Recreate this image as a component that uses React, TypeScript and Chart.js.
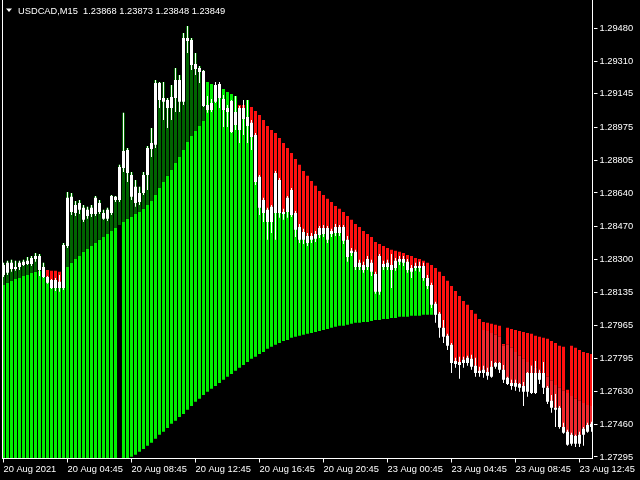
import React, { useEffect, useRef } from 'react';
import { Chart, registerables } from 'chart.js';

Chart.register(...registerables);

const chartTitle = 'USDCAD,M15  1.23868 1.23873 1.23848 1.23849';
const xTickLabels = ['20 Aug 2021', '20 Aug 04:45', '20 Aug 08:45', '20 Aug 12:45', '20 Aug 16:45', '20 Aug 20:45', '23 Aug 00:45', '23 Aug 04:45', '23 Aug 08:45', '23 Aug 12:45'];
const xTickEvery = 16;
const yTickValues = [1.27295, 1.2746, 1.2763, 1.27795, 1.27965, 1.28135, 1.283, 1.2847, 1.2864, 1.28805, 1.28975, 1.29145, 1.2931, 1.2948];
const yMin = 1.27287;
const yMax = 1.29623;

const openPrices = [
  1.28222, 1.28284, 1.28253, 1.28263, 1.28263, 1.28273, 1.28278, 1.28278, 1.28304, 1.28319,
  1.28263, 1.28212, 1.28197, 1.28156, 1.28187, 1.28156, 1.2837, 1.2862, 1.28538, 1.28589,
  1.28564, 1.28523, 1.28533, 1.28533, 1.28589, 1.28538, 1.28508, 1.28538, 1.2862, 1.28604,
  1.28767, 1.28859, 1.28732, 1.28671, 1.28594, 1.2864, 1.28732, 1.28864, 1.28885, 1.292,
  1.29124, 1.29114, 1.29073, 1.29124, 1.29216, 1.29104, 1.2943, 1.29419, 1.29297, 1.29256,
  1.29261, 1.29088, 1.29063, 1.29104, 1.29195, 1.29119, 1.29073, 1.28951, 1.29053, 1.28961,
  1.29073, 1.28981, 1.28997, 1.28935, 1.28722, 1.28604, 1.28554, 1.28492, 1.28538, 1.28706,
  1.28543, 1.28543, 1.28655, 1.28538, 1.28467, 1.28401, 1.28421, 1.28401, 1.28406, 1.28426,
  1.28462, 1.28401, 1.28446, 1.28436, 1.28467, 1.28467, 1.28401, 1.28334, 1.2834, 1.28284,
  1.28273, 1.28263, 1.28284, 1.28227, 1.28136, 1.28278, 1.28263, 1.28273, 1.28258, 1.28289,
  1.28304, 1.28289, 1.28258, 1.28258, 1.28268, 1.28268, 1.28207, 1.28171, 1.28075, 1.28024,
  1.27953, 1.27912, 1.27866, 1.27769, 1.27779, 1.27774, 1.27774, 1.27795, 1.27759, 1.27734,
  1.27723, 1.27728, 1.27703, 1.27754, 1.27774, 1.27739, 1.27698, 1.27672, 1.27652, 1.27667,
  1.27657, 1.27627, 1.27723, 1.27621, 1.27723, 1.27723, 1.27647, 1.27581, 1.27545, 1.27545,
  1.27448, 1.27423, 1.27362, 1.27402, 1.27362, 1.27408, 1.27423, 1.27464,
];
const highPrices = [
  1.28284, 1.28294, 1.28299, 1.28294, 1.28294, 1.28299, 1.28314, 1.28319, 1.28334, 1.28329,
  1.28284, 1.28217, 1.28202, 1.28207, 1.28222, 1.28385, 1.28645, 1.2864, 1.28599, 1.28604,
  1.28579, 1.28569, 1.28579, 1.28625, 1.28604, 1.28554, 1.28564, 1.2863, 1.28625, 1.28783,
  1.29048, 1.28869, 1.28747, 1.28706, 1.28671, 1.28747, 1.28879, 1.28971, 1.29216, 1.29205,
  1.29205, 1.29124, 1.2919, 1.29277, 1.29241, 1.29455, 1.29491, 1.2943, 1.29353, 1.29287,
  1.29266, 1.29134, 1.29119, 1.29205, 1.29205, 1.29139, 1.29088, 1.29114, 1.29134, 1.29083,
  1.29114, 1.29114, 1.29012, 1.28946, 1.28732, 1.28615, 1.28564, 1.28579, 1.28752, 1.28716,
  1.28559, 1.28625, 1.28665, 1.28548, 1.28482, 1.28457, 1.28436, 1.28436, 1.28446, 1.28472,
  1.28477, 1.28472, 1.28457, 1.28482, 1.28477, 1.28477, 1.28421, 1.2836, 1.2835, 1.28299,
  1.28289, 1.28319, 1.28299, 1.28238, 1.28329, 1.28294, 1.28299, 1.28329, 1.28309, 1.28319,
  1.28319, 1.28304, 1.28273, 1.28284, 1.28289, 1.28284, 1.28222, 1.28182, 1.28085, 1.28034,
  1.27993, 1.27922, 1.27876, 1.278, 1.27805, 1.27805, 1.2781, 1.27815, 1.278, 1.27754,
  1.27759, 1.27749, 1.27784, 1.27779, 1.27779, 1.27764, 1.27703, 1.27688, 1.27688, 1.27672,
  1.27677, 1.27728, 1.27759, 1.27784, 1.27739, 1.27779, 1.27657, 1.27611, 1.27616, 1.27555,
  1.27469, 1.27433, 1.27418, 1.27408, 1.27423, 1.27448, 1.27469, 1.27474,
];
const lowPrices = [
  1.28212, 1.28222, 1.28238, 1.28243, 1.28248, 1.28268, 1.28273, 1.28268, 1.28289, 1.28217,
  1.28207, 1.28177, 1.28151, 1.28141, 1.28136, 1.28146, 1.2836, 1.28528, 1.28523, 1.28533,
  1.28492, 1.28508, 1.28518, 1.28523, 1.28533, 1.28503, 1.28497, 1.28528, 1.28594, 1.28594,
  1.28747, 1.28696, 1.28604, 1.28569, 1.28579, 1.2863, 1.28655, 1.28823, 1.28869, 1.29073,
  1.29012, 1.28971, 1.29012, 1.29053, 1.29053, 1.29088, 1.29353, 1.29266, 1.29241, 1.292,
  1.29078, 1.29048, 1.29053, 1.29098, 1.29073, 1.28976, 1.28976, 1.28946, 1.28961, 1.28895,
  1.28935, 1.28895, 1.28859, 1.28681, 1.28528, 1.28492, 1.28401, 1.28436, 1.28401, 1.28513,
  1.28503, 1.28513, 1.28518, 1.28416, 1.28385, 1.2838, 1.2837, 1.28385, 1.2839, 1.28411,
  1.28416, 1.28385, 1.28416, 1.28421, 1.28421, 1.2838, 1.28289, 1.28319, 1.28248, 1.28248,
  1.28233, 1.28248, 1.28217, 1.28126, 1.28121, 1.28248, 1.28248, 1.28156, 1.28243, 1.28273,
  1.28268, 1.28233, 1.28207, 1.28243, 1.28238, 1.28192, 1.28151, 1.28054, 1.27978, 1.27902,
  1.27876, 1.2784, 1.27723, 1.27749, 1.27693, 1.27749, 1.27759, 1.27739, 1.27703, 1.27703,
  1.27698, 1.27688, 1.27698, 1.27744, 1.27723, 1.27672, 1.27662, 1.27637, 1.27632, 1.27627,
  1.27555, 1.27601, 1.27616, 1.27616, 1.27667, 1.27616, 1.27565, 1.2752, 1.27448, 1.27438,
  1.27413, 1.27352, 1.27352, 1.27346, 1.27346, 1.27352, 1.27418, 1.27423,
];
const closePrices = [
  1.28273, 1.28233, 1.28284, 1.28253, 1.28284, 1.28289, 1.28294, 1.28309, 1.28319, 1.28248,
  1.28212, 1.28182, 1.28156, 1.28197, 1.28156, 1.28375, 1.28615, 1.28543, 1.28579, 1.28554,
  1.28503, 1.28554, 1.28564, 1.28615, 1.28543, 1.28508, 1.28554, 1.28625, 1.28604, 1.28772,
  1.28854, 1.28742, 1.2862, 1.28589, 1.2864, 1.28732, 1.28869, 1.28895, 1.292, 1.29114,
  1.29104, 1.29073, 1.29129, 1.29216, 1.29104, 1.2943, 1.29414, 1.29292, 1.29272, 1.29277,
  1.29083, 1.29063, 1.29098, 1.2919, 1.29124, 1.29063, 1.29053, 1.29109, 1.28986, 1.29073,
  1.29017, 1.29027, 1.28925, 1.28696, 1.28564, 1.28538, 1.28492, 1.28569, 1.28742, 1.28538,
  1.28533, 1.28615, 1.28528, 1.28452, 1.28401, 1.28441, 1.28385, 1.28421, 1.28431, 1.28462,
  1.28431, 1.28462, 1.28431, 1.28467, 1.28436, 1.28396, 1.28314, 1.28345, 1.28263, 1.28263,
  1.28248, 1.28304, 1.28238, 1.28136, 1.28319, 1.28263, 1.28284, 1.28248, 1.28294, 1.28304,
  1.28284, 1.28248, 1.28238, 1.28268, 1.28258, 1.28207, 1.28166, 1.2807, 1.28019, 1.27953,
  1.27907, 1.27861, 1.27774, 1.27784, 1.27764, 1.2779, 1.278, 1.27754, 1.27723, 1.27723,
  1.27739, 1.27708, 1.27754, 1.27774, 1.27739, 1.27688, 1.27667, 1.27657, 1.27672, 1.27647,
  1.27627, 1.27723, 1.27621, 1.27723, 1.27688, 1.27647, 1.27576, 1.27545, 1.27535, 1.27448,
  1.27418, 1.27357, 1.27408, 1.27362, 1.27408, 1.27438, 1.27458, 1.27448,
];

// smooth trend line (top of the lime histogram when rising, top of the red one when falling)
const maLine = [
  1.28171, 1.28182, 1.28192, 1.28202, 1.28207, 1.28217, 1.28222, 1.28233, 1.28238, 1.28243,
  1.28248, 1.28248, 1.28243, 1.28243, 1.28238, 1.28243, 1.28263, 1.28284, 1.28304, 1.28319,
  1.2834, 1.28355, 1.2837, 1.28385, 1.28401, 1.28416, 1.28431, 1.28446, 1.28462, 1.28477,
  1.28492, 1.28508, 1.28518, 1.28533, 1.28543, 1.28559, 1.28579, 1.28599, 1.2863, 1.28665,
  1.28696, 1.28727, 1.28757, 1.28793, 1.28823, 1.28859, 1.289, 1.2893, 1.28956, 1.28981,
  1.29007, 1.29027, 1.29042, 1.29053, 1.29063, 1.29073, 1.29078, 1.29083, 1.29088, 1.29088,
  1.29088, 1.29083, 1.29078, 1.29058, 1.29037, 1.29012, 1.28981, 1.28961, 1.28946, 1.2892,
  1.28895, 1.28869, 1.28844, 1.28813, 1.28783, 1.28752, 1.28727, 1.28701, 1.28676, 1.2865,
  1.2863, 1.2861, 1.28594, 1.28574, 1.28559, 1.28543, 1.28523, 1.28503, 1.28482, 1.28467,
  1.28446, 1.28431, 1.28416, 1.2839, 1.2838, 1.2837, 1.2836, 1.2835, 1.28345, 1.2834,
  1.28334, 1.28324, 1.28319, 1.28309, 1.28304, 1.28294, 1.28284, 1.28273, 1.28258, 1.28238,
  1.28217, 1.28192, 1.28166, 1.28141, 1.28115, 1.2809, 1.2807, 1.28044, 1.28024, 1.27998,
  1.27983, 1.27978, 1.27973, 1.27968, 1.27963, 1.27871, 1.27953, 1.27947, 1.27942, 1.27937,
  1.27932, 1.27927, 1.27922, 1.27912, 1.27907, 1.27902, 1.27897, 1.27886, 1.27876, 1.27861,
  1.27856, 1.27637, 1.27861, 1.27851, 1.2784, 1.2783, 1.27825, 1.2782,
];

// slow base line (bottom of the lime histogram), known from bar 32 to bar 109
const slowLineStart = 32;
const slowLine = [
  1.27296, 1.27306, 1.27321, 1.27336, 1.27352, 1.27367, 1.27387, 1.27408, 1.27423, 1.27443,
  1.27464, 1.27479, 1.27499, 1.27514, 1.27535, 1.27555, 1.27576, 1.27591, 1.27611, 1.27627,
  1.27642, 1.27657, 1.27672, 1.27688, 1.27703, 1.27718, 1.27734, 1.27749, 1.27764, 1.27779,
  1.27795, 1.27805, 1.2782, 1.2783, 1.27846, 1.27856, 1.27866, 1.27876, 1.27886, 1.27891,
  1.27902, 1.27907, 1.27912, 1.27917, 1.27922, 1.27927, 1.27932, 1.27937, 1.27942, 1.27947,
  1.27953, 1.27958, 1.27963, 1.27963, 1.27968, 1.27973, 1.27978, 1.27978, 1.27983, 1.27983,
  1.27988, 1.27993, 1.27993, 1.27998, 1.27998, 1.28003, 1.28003, 1.28009, 1.28009, 1.28009,
  1.28014, 1.28014, 1.28014, 1.28019, 1.28019, 1.28019, 1.28019, 1.28019,
];

// split between the bright and the deep red parts, bars 120 to 147
const splitLineStart = 120;
const splitLine = [
  1.27942, 1.27937, 1.27927, 1.27917, 1.27907, 1.27861, 1.27866, 1.27851, 1.2783, 1.2781,
  1.27795, 1.27779, 1.27764, 1.27749, 1.27734, 1.27718, 1.27703, 1.27683, 1.27662, 1.27647,
  1.27632, 1.27621, 1.27606, 1.27591, 1.27581, 1.2757, 1.2756, 1.27555,
];

// top of the lime histogram on the weakening bars
const weakTop: Record<number, number> = {
  51: 1.29205, 52: 1.29195, 53: 1.29185, 54: 1.2918, 55: 1.2917, 56: 1.29154, 57: 1.29144, 58: 1.29134, 61: 1.29114,
};

// U = rising, G = rising without base, W = weakening, D = falling above base, R = falling below base
const stateRuns: [string, number][] = [
  ['U', 11], ['D', 4], ['U', 14], ['G', 1], ['U', 21], ['W', 8], ['D', 2], ['W', 1], ['D', 48], ['R', 38],
];

const COLORS = {
  lime: '#00f000',
  darkGreen: '#006400',
  red: '#ff1010',
  deepRed: '#f2282e',
  candle: '#ffffff',
  text: '#ffffff',
  bg: '#000000',
};
const FONT_FAMILY = '"Liberation Sans", Arial, sans-serif';
const FONT_SIZE = 9.3;

function buildTable() {
  const states: string[] = [];
  stateRuns.forEach(([s, n]) => { for (let i = 0; i < n; i++) states.push(s); });
  const n = closePrices.length;
  const lime: any[] = [], darkGreen: any[] = [], red: any[] = [], deepRed: any[] = [], wicks: any[] = [], bodies: any[] = [];
  for (let k = 0; k < n; k++) {
    const s = states[k] || 'R';
    const top = Math.max(openPrices[k], closePrices[k]);
    const m = maLine[k];
    const si = k - slowLineStart;
    const slow = k < slowLineStart ? yMin : (si < slowLine.length ? slowLine[si] : null);
    const pi = k - splitLineStart;
    const split = pi >= 0 && pi < splitLine.length ? splitLine[pi] : null;
    let l: any = null, dg: any = null, r: any = null, dr: any = null;
    if (s === 'U') {
      if (slow !== null) l = [slow, m];
      dg = [m, highPrices[k]];
    } else if (s === 'G') {
      dg = [m, highPrices[k]];
    } else if (s === 'W') {
      if (slow !== null) l = [slow, weakTop[k]];
    } else {
      if (s === 'D' && slow !== null && top > slow) l = [slow, top];
      if (m > top) {
        if (split !== null && split > top && split < m) {
          r = [split, m];
          dr = [top, split];
        } else {
          r = [top, m];
        }
      }
    }
    lime.push(l); darkGreen.push(dg); red.push(r); deepRed.push(dr);
    wicks.push([lowPrices[k], highPrices[k]]);
    bodies.push([openPrices[k], closePrices[k]]);
  }
  return { lime, darkGreen, red, deepRed, wicks, bodies };
}

const framePlugin = {
  id: 'frame',
  beforeDraw(chart: any) {
    const ctx = chart.ctx;
    ctx.save();
    ctx.fillStyle = COLORS.bg;
    ctx.fillRect(0, 0, chart.width, chart.height);
    ctx.restore();
  },
  afterDraw(chart: any) {
    const ctx = chart.ctx;
    const a = chart.chartArea;
    ctx.save();
    ctx.fillStyle = '#ffffff';
    const bottom = Math.floor(a.bottom);
    ctx.fillRect(2, 0, 1, bottom + 1);
    ctx.fillRect(Math.floor(a.right) - 1, 0, 1, bottom + 1);
    ctx.fillRect(2, bottom, Math.floor(a.right) - 2, 1);
    // title
    ctx.beginPath();
    ctx.moveTo(6, 8.5);
    ctx.lineTo(12, 8.5);
    ctx.lineTo(9, 12);
    ctx.closePath();
    ctx.fill();
    ctx.fillStyle = COLORS.text;
    ctx.font = `${FONT_SIZE}px ${FONT_FAMILY}`;
    ctx.textBaseline = 'middle';
    ctx.textAlign = 'left';
    ctx.fillText(chartTitle, 18, 11);
    ctx.restore();
  },
};

export default function App() {
  const ref = useRef<HTMLCanvasElement | null>(null);
  useEffect(() => {
    document.body.style.margin = '0';
    document.body.style.background = '#000';
    const t = buildTable();
    const common = { grouped: false, borderWidth: 0, inflateAmount: 0 };
    const chart = new Chart(ref.current as HTMLCanvasElement, {
      type: 'bar',
      data: {
        labels: closePrices.map((_, i) => String(i)),
        datasets: [
          { label: 'body', data: t.bodies, backgroundColor: COLORS.candle, barThickness: 3, order: 0, ...common },
          { label: 'wick', data: t.wicks, backgroundColor: COLORS.candle, barThickness: 1, order: 1, ...common },
          { label: 'deepRed', data: t.deepRed, backgroundColor: COLORS.deepRed, barThickness: 3, order: 2, ...common },
          { label: 'red', data: t.red, backgroundColor: COLORS.red, barThickness: 3, order: 3, ...common },
          { label: 'darkGreen', data: t.darkGreen, backgroundColor: COLORS.darkGreen, barThickness: 3, order: 4, ...common },
          { label: 'lime', data: t.lime, backgroundColor: COLORS.lime, barThickness: 3, order: 5, ...common },
        ] as any,
      },
      options: {
        responsive: false,
        animation: false,
        devicePixelRatio: 1,
        events: [],
        layout: { padding: { left: 1.5, right: 0, top: 0, bottom: 0 } },
        plugins: { legend: { display: false }, tooltip: { enabled: false }, title: { display: false } },
        scales: {
          x: {
            type: 'category',
            offset: true,
            border: { display: false },
            grid: {
              display: true,
              drawOnChartArea: false,
              drawTicks: true,
              tickLength: 4,
              offset: false,
              color: (c: any) => (c.index % xTickEvery === 0 ? '#ffffff' : 'rgba(0,0,0,0)'),
              tickColor: (c: any) => (c.index % xTickEvery === 0 ? '#ffffff' : 'rgba(0,0,0,0)'),
            },
            ticks: {
              autoSkip: false,
              maxRotation: 0,
              minRotation: 0,
              align: 'start',
              padding: 1,
              color: COLORS.text,
              font: { family: FONT_FAMILY, size: FONT_SIZE },
              callback: (_v: any, i: number) => (i % xTickEvery === 0 ? (xTickLabels[i / xTickEvery] ?? '') : ''),
            },
            afterFit: (s: any) => {
              s.height = 21.5;
              s.paddingLeft = 0; s.paddingRight = 0; s.paddingTop = 0; s.paddingBottom = 0;
            },
          },
          y: {
            type: 'linear',
            position: 'right',
            min: yMin,
            max: yMax,
            beginAtZero: false,
            border: { display: false },
            grid: { display: true, drawOnChartArea: false, drawTicks: true, tickLength: 4, color: '#ffffff', tickColor: '#ffffff' },
            ticks: {
              padding: 2,
              color: COLORS.text,
              font: { family: FONT_FAMILY, size: FONT_SIZE },
              callback: (v: any) => Number(v).toFixed(5),
            },
            afterBuildTicks: (s: any) => {
              s.ticks = yTickValues.map((v) => ({ value: v }));
            },
            afterFit: (s: any) => {
              s.width = 46.5;
              s.paddingLeft = 0; s.paddingRight = 0; s.paddingTop = 0; s.paddingBottom = 0;
            },
          },
        },
      } as any,
      plugins: [framePlugin],
    });
    return () => chart.destroy();
  }, []);
  return <canvas ref={ref} width={640} height={480} style={{ display: 'block', width: 640, height: 480 }} />;
}
